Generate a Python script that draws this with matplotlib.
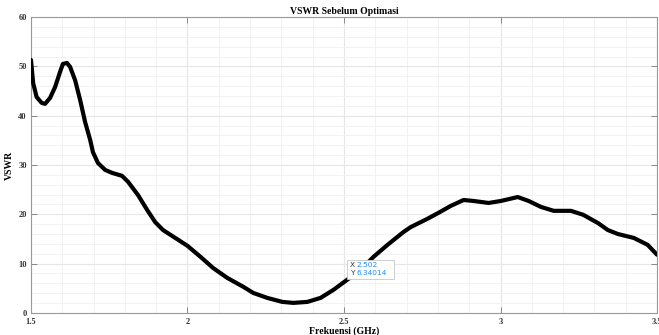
import matplotlib
matplotlib.use("Agg")
import matplotlib.pyplot as plt
from matplotlib.ticker import MultipleLocator
from matplotlib.patches import Rectangle
from matplotlib.transforms import ScaledTranslation

freq = [1.500, 1.507, 1.518, 1.534, 1.545, 1.561, 1.577, 1.593, 1.602, 1.615,
        1.625, 1.641, 1.657, 1.673, 1.689, 1.698, 1.714, 1.737, 1.759, 1.791,
        1.810, 1.842, 1.871, 1.897, 1.922, 1.961, 2.000, 2.041, 2.082, 2.127,
        2.178, 2.210, 2.255, 2.303, 2.338, 2.383, 2.425, 2.466, 2.502, 2.553,
        2.594, 2.639, 2.690, 2.713, 2.767, 2.802, 2.841, 2.882, 2.914, 2.962,
        3.001, 3.055, 3.090, 3.129, 3.170, 3.225, 3.264, 3.312, 3.343, 3.375,
        3.426, 3.470, 3.500]
vswr = [51.3, 46.6, 43.8, 42.6, 42.4, 43.6, 45.8, 48.9, 50.5, 50.7,
        49.9, 47.2, 43.2, 38.7, 35.1, 32.6, 30.4, 29.0, 28.4, 27.8,
        26.6, 23.9, 20.9, 18.4, 16.8, 15.2, 13.6, 11.4, 9.1, 7.1,
        5.3, 4.05, 3.04, 2.23, 2.03, 2.23, 3.04, 4.66, 6.34014, 8.7,
        11.35, 13.8, 16.4, 17.4, 19.1, 20.3, 21.7, 22.9, 22.7, 22.3,
        22.7, 23.5, 22.7, 21.5, 20.7, 20.7, 19.9, 18.2, 16.8, 16.0,
        15.2, 13.8, 11.8]
xticks = [1.5, 2, 2.5, 3, 3.5]
xticklabels = ["1.5", "2", "2.5", "3", "3.5"]
yticks = [0, 10, 20, 30, 40, 50, 60]
tip_x = 2.502
tip_y = 6.34014

serif = ["Liberation Serif", "DejaVu Serif"]

fig = plt.figure(figsize=(6.59, 3.35), dpi=100)
ax = fig.add_axes([0.047, 0.066, 0.950, 0.883])

ax.plot(freq, vswr, color="black", lw=3.0, solid_capstyle="round", solid_joinstyle="round", zorder=3)

ax.set_xlim(1.5, 3.5)
ax.set_ylim(0, 60)
ax.set_xticks(xticks)
ax.set_xticklabels(xticklabels)
ax.set_yticks(yticks)
ax.xaxis.set_minor_locator(MultipleLocator(0.1))
ax.yaxis.set_minor_locator(MultipleLocator(2))
ax.grid(which="major", color="#e6e6e6", lw=0.8)
ax.grid(which="minor", color="#f0f0f0", lw=0.6)
ax.set_axisbelow(True)
ax.tick_params(which="major", direction="in", length=4, width=0.6, color="#777777",
               top=True, right=True, labelsize=6)
ax.tick_params(axis="x", which="major", pad=4)
ax.tick_params(axis="y", which="major", pad=3)
ax.tick_params(which="minor", length=0)
for lab in ax.get_xticklabels() + ax.get_yticklabels():
    lab.set_family(serif)
    lab.set_fontweight("bold")
    lab.set_color("#333333")
for s in ax.spines.values():
    s.set_color("#999999")
    s.set_linewidth(0.8)

ax.set_title("VSWR Sebelum Optimasi", family=serif, fontweight="bold", fontsize=7, pad=2)
ax.set_xlabel("Frekuensi (GHz)", family=serif, fontweight="bold", fontsize=7, labelpad=0)
ax.set_ylabel("VSWR", family=serif, fontweight="bold", fontsize=7, labelpad=3)

# data tip (box and text positioned in inches relative to the data point)
tip_trans = fig.dpi_scale_trans + ScaledTranslation(tip_x, tip_y, ax.transData)
ax.add_patch(Rectangle((0.02, 0.03), 0.47, 0.19, transform=tip_trans, fc="white",
                       ec="#c8c8c8", lw=0.6, zorder=5, clip_on=False))
ax.text(0.05, 0.165, "X", transform=tip_trans, ha="left", va="center", fontsize=5.3,
        color="#333333", family="DejaVu Sans", zorder=6)
ax.text(0.05, 0.09, "Y", transform=tip_trans, ha="left", va="center", fontsize=5.3,
        color="#333333", family="DejaVu Sans", zorder=6)
ax.text(0.12, 0.165, "2.502", transform=tip_trans, ha="left", va="center", fontsize=5.3,
        color="#1a8cff", family="DejaVu Sans", zorder=6)
ax.text(0.12, 0.09, "6.34014", transform=tip_trans, ha="left", va="center", fontsize=5.3,
        color="#1a8cff", family="DejaVu Sans", zorder=6)

fig.savefig("out.png", dpi=100)
